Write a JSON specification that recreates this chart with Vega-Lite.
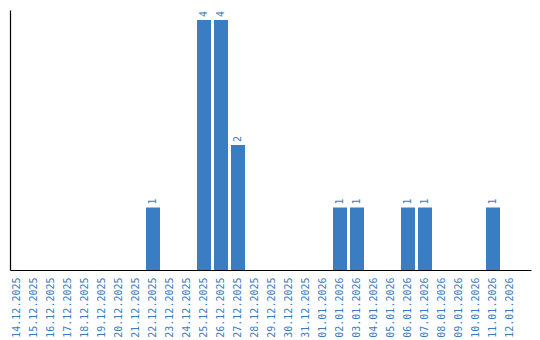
{
  "$schema": "https://vega.github.io/schema/vega-lite/v6.json",
  "width": 521,
  "height": 260,
  "autosize": "none",
  "padding": {"left": 10, "top": 10, "right": 9, "bottom": 70},
  "background": "white",
  "config": {"view": {"stroke": null}},
  "data": {"values": [
    {"date": "14.12.2025", "count": 0},
    {"date": "15.12.2025", "count": 0},
    {"date": "16.12.2025", "count": 0},
    {"date": "17.12.2025", "count": 0},
    {"date": "18.12.2025", "count": 0},
    {"date": "19.12.2025", "count": 0},
    {"date": "20.12.2025", "count": 0},
    {"date": "21.12.2025", "count": 0},
    {"date": "22.12.2025", "count": 1},
    {"date": "23.12.2025", "count": 0},
    {"date": "24.12.2025", "count": 0},
    {"date": "25.12.2025", "count": 4},
    {"date": "26.12.2025", "count": 4},
    {"date": "27.12.2025", "count": 2},
    {"date": "28.12.2025", "count": 0},
    {"date": "29.12.2025", "count": 0},
    {"date": "30.12.2025", "count": 0},
    {"date": "31.12.2025", "count": 0},
    {"date": "01.01.2026", "count": 0},
    {"date": "02.01.2026", "count": 1},
    {"date": "03.01.2026", "count": 1},
    {"date": "04.01.2026", "count": 0},
    {"date": "05.01.2026", "count": 0},
    {"date": "06.01.2026", "count": 1},
    {"date": "07.01.2026", "count": 1},
    {"date": "08.01.2026", "count": 0},
    {"date": "09.01.2026", "count": 0},
    {"date": "10.01.2026", "count": 0},
    {"date": "11.01.2026", "count": 1},
    {"date": "12.01.2026", "count": 0}
  ]},
  "encoding": {
    "x": {
      "field": "date", "type": "ordinal", "sort": null,
      "scale": {"paddingInner": 0.176, "paddingOuter": 0.4118, "align": 0},
      "axis": {
        "title": null, "labelAngle": 270, "ticks": false, "labelPadding": 7,
        "labelFont": "DejaVu Sans Mono", "labelFontSize": 10, "labelColor": "#3a7bbf",
        "domainColor": "#000000", "domainWidth": 1.2, "grid": false
      }
    },
    "y": {
      "field": "count", "type": "quantitative",
      "scale": {"domain": [0, 4.16], "nice": false},
      "axis": {"title": null, "labels": false, "ticks": false, "grid": false, "domainColor": "#000000", "domainWidth": 1.2}
    }
  },
  "layer": [
    {"mark": {"type": "bar", "color": "#3b7dc2"}},
    {
      "transform": [{"filter": "datum.count > 0"}],
      "mark": {"type": "text", "angle": 270, "align": "left", "baseline": "middle", "dx": 3, "font": "DejaVu Sans Mono", "fontSize": 10, "color": "#3a7bbf"},
      "encoding": {"text": {"field": "count", "type": "quantitative"}}
    }
  ]
}
